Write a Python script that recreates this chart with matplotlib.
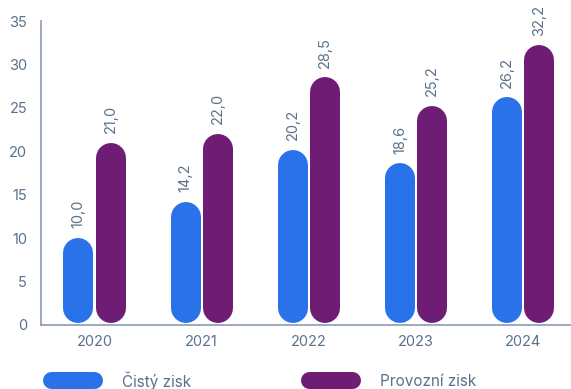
import matplotlib
matplotlib.use("Agg")
import matplotlib.pyplot as plt
from matplotlib.lines import Line2D
import numpy as np

years = ["2020", "2021", "2022", "2023", "2024"]
cisty_zisk = [10.0, 14.2, 20.2, 18.6, 26.2]
provozni_zisk = [21.0, 22.0, 28.5, 25.2, 32.2]
series_names = ["Čistý zisk", "Provozní zisk"]

BLUE = "#2A72EA"
PURPLE = "#6E1C74"
TEXT = "#5B7189"
AXIS = "#8C9CB0"

plt.rcParams["font.family"] = ["Inter", "DejaVu Sans"]

fig = plt.figure(figsize=(5.71, 3.89), dpi=100)
ax = fig.add_axes([41 / 571, 1 - 325 / 389, 1 - 41 / 571 + 0.01, (325 - 21) / 389])
ax.set_xlim(-0.5, 4.5)
ax.set_ylim(0, 35)

x = np.arange(len(years))
w = 0.28
gap = 0.01
base = 0.2

# pixel scale, so the bars can be drawn as thick lines with round caps
fig.canvas.draw()
p0 = ax.transData.transform((0, 0))
p1 = ax.transData.transform((1, 1))
px_x, px_y = p1[0] - p0[0], p1[1] - p0[1]
lw_pt = w * px_x * 72 / fig.dpi
r_y = (w / 2) * px_x / px_y  # cap radius in y units

for vals, color, off in [(cisty_zisk, BLUE, -(w / 2 + gap)), (provozni_zisk, PURPLE, w / 2 + gap)]:
    for xc, v in zip(x + off, vals):
        ax.plot([xc, xc], [base + r_y, v - r_y], color=color, lw=lw_pt,
                solid_capstyle="round", zorder=2)
        ax.annotate(f"{v:.1f}".replace(".", ","), (xc, v),
                    xytext=(0, 7), textcoords="offset points", rotation=90,
                    ha="center", va="bottom", fontsize=10.5, color=TEXT)

ax.set_xticks(x)
ax.set_xticklabels(years)
ax.set_yticks(range(0, 36, 5))
ax.tick_params(length=0, labelsize=10.5, colors=TEXT)
ax.tick_params(axis="x", pad=7)
ax.tick_params(axis="y", pad=10)
for s in ["top", "right"]:
    ax.spines[s].set_visible(False)
for s in ["left", "bottom"]:
    ax.spines[s].set_color(AXIS)
    ax.spines[s].set_linewidth(1.2)

# legend drawn at figure level
legend_x = [42, 300]
leg_h = 17
for lx, name, color in zip(legend_x, series_names, [BLUE, PURPLE]):
    yc = 1 - 380 / 389
    fig.add_artist(Line2D([(lx + leg_h / 2) / 571, (lx + 60 - leg_h / 2) / 571], [yc, yc],
                          transform=fig.transFigure, color=color,
                          lw=leg_h * 72 / fig.dpi, solid_capstyle="round"))
    fig.text((lx + 80) / 571, 1 - 381 / 389, name, fontsize=11, color=TEXT,
             va="center", ha="left")

fig.savefig("out.png", dpi=100)
